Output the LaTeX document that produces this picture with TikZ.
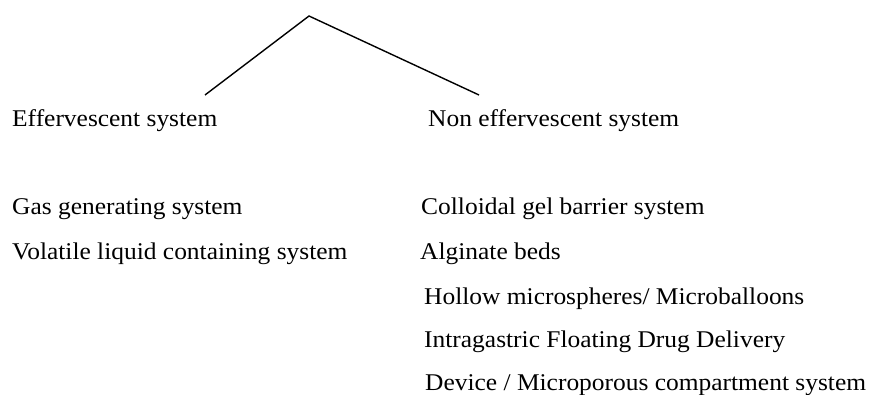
\documentclass[tikz,border=0pt]{standalone}
\usepackage{fontspec}
\setmainfont[FakeStretch=1.06]{Liberation Serif}
\usepackage{tikz}
\usetikzlibrary{positioning}

\begin{document}
\begin{tikzpicture}[x=1pt,y=1pt]
% Define styles
\tikzstyle{label} = [anchor=base west, inner sep=0pt, font=\fontsize{24}{28}\selectfont]
\tikzstyle{branch} = [line width=1.4pt, line join=miter]
\useasboundingbox (0,0) rectangle (872,394);
% Define nodes
\coordinate (top) at (309,378);
\coordinate (effend) at (205,299);
\coordinate (noneffend) at (479,299);
\node[label] (eff) at (12,267) {Effervescent system};
\node[label] (noneff) at (428,267) {Non effervescent system};
\node[label] (gas) at (12,179) {Gas generating system};
\node[label] (volatile) at (12,135) {Volatile liquid containing system};
\node[label] (colloid) at (421,179) {Colloidal gel barrier system};
\node[label] (alginate) at (420,135) {Alginate beds};
\node[label] (hollow) at (424,90) {Hollow microspheres/ Microballoons};
\node[label] (intra) at (424,47) {Intragastric Floating Drug Delivery};
\node[label] (device) at (425,4) {Device / Microporous compartment system};
% Connect the nodes
\draw[branch] (effend) -- (top) -- (noneffend);
\end{tikzpicture}
\end{document}
